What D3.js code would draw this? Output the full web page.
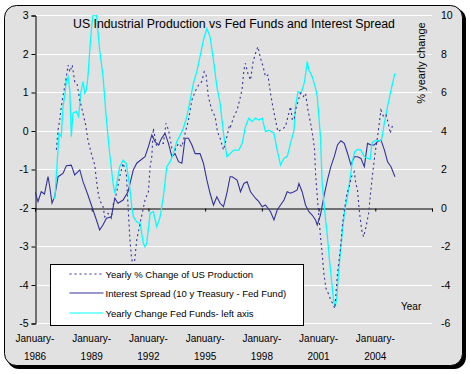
<!DOCTYPE html>
<html>
<head>
<meta charset="utf-8">
<script src="https://cdn.jsdelivr.net/npm/d3@7"></script>
<style>
  body { margin: 0; background: #fff; }
  text { font-family: "Liberation Sans", Arial, sans-serif; fill: #000; }
</style>
</head>
<body>
<div id="chart"></div>
<script>
// time axis in years, labels every 3 years
let tickYears = [1986, 1989, 1992, 1995, 1998, 2001, 2004];
let leftTicks = [3, 2, 1, 0, -1, -2, -3, -4, -5];
let rightTicks = [10, 8, 6, 4, 2, 0, -2, -4, -6];

// Interest Spread (10 y Treasury - Fed Fund), right axis
let spreadYears = [1986.00,1986.16,1986.33,1986.50,1986.69,1986.78,1986.90,1987.04,1987.22,1987.48,1987.66,1987.92,
  1988.10,1988.37,1988.54,1988.80,1989.07,1989.25,1989.42,1989.60,1989.78,1990.04,1990.22,1990.39,1990.66,1990.92,
  1991.20,1991.38,1991.82,1992.00,1992.18,1992.35,1992.53,1992.70,1992.88,1993.06,1993.24,1993.41,1993.59,1993.77,
  1993.94,1994.12,1994.30,1994.47,1994.73,1994.91,1995.09,1995.26,1995.44,1995.62,1995.79,1995.97,1996.15,1996.32,
  1996.43,1996.69,1996.87,1997.05,1997.22,1997.40,1997.66,1997.84,1998.02,1998.19,1998.46,1998.64,1998.81,1998.99,
  1999.17,1999.34,1999.52,1999.70,1999.87,1999.96,2000.13,2000.31,2000.49,2000.66,2000.84,2000.93,2001.10,2001.28,
  2001.47,2001.65,2001.83,2002.00,2002.18,2002.36,2002.53,2002.71,2002.89,2003.06,2003.24,2003.42,2003.59,2003.77,
  2003.95,2004.12,2004.30,2004.48,2004.65,2004.83,2005.04];
let spreadValues = [0.82,0.30,0.82,0.70,1.60,1.08,0.23,0.56,1.60,1.77,2.17,2.20,
  1.69,1.95,1.34,0.65,-0.13,-0.65,-1.17,-0.90,-0.56,-0.48,0.48,0.22,0.39,0.82,
  1.95,2.30,2.64,3.16,3.77,3.42,3.25,3.60,3.85,3.33,2.64,2.80,2.38,2.30,
  3.60,3.60,3.25,2.80,2.80,2.30,1.43,0.74,0.13,0.56,0.22,0.04,0.74,1.60,
  1.60,1.43,0.82,1.25,1.34,0.82,0.48,0.30,0.04,0.13,-0.22,-0.65,-0.13,0.13,
  0.39,0.82,0.74,0.82,0.91,1.25,0.82,0.13,-0.22,-0.39,-0.65,-0.91,-0.39,0.56,
  1.43,2.12,2.64,3.25,3.47,3.33,2.82,2.21,2.64,2.64,2.55,2.12,3.33,3.25,
  3.25,3.42,3.51,2.99,2.38,2.12,1.60];

// Yearly Change Fed Funds, left axis
let fedYears = [1986.95,1987.05,1987.16,1987.27,1987.39,1987.48,1987.57,1987.66,1987.75,1987.84,1987.92,1988.01,
  1988.19,1988.31,1988.42,1988.54,1988.63,1988.72,1988.80,1988.90,1988.98,1989.07,1989.25,1989.42,1989.60,1989.78,
  1989.95,1990.13,1990.22,1990.31,1990.48,1990.66,1990.83,1991.01,1991.12,1991.20,1991.38,1991.56,1991.73,1991.82,
  1991.91,1992.09,1992.26,1992.44,1992.62,1992.79,1992.97,1993.15,1993.32,1993.50,1993.68,1993.85,1994.03,1994.21,
  1994.38,1994.56,1994.73,1994.91,1995.09,1995.26,1995.44,1995.62,1995.79,1995.97,1996.15,1996.34,1996.52,1996.78,
  1996.96,1997.13,1997.31,1997.49,1997.66,1997.84,1998.02,1998.19,1998.37,1998.64,1998.81,1998.99,1999.17,1999.34,
  1999.52,1999.70,1999.78,1999.91,2000.08,2000.26,2000.40,2000.49,2000.66,2000.84,2000.93,2001.10,2001.19,2001.32,
  2001.39,2001.47,2001.56,2001.65,2001.79,2001.88,2001.97,2002.04,2002.15,2002.27,2002.39,2002.53,2002.68,2002.80,
  2002.92,2003.06,2003.24,2003.42,2003.59,2003.73,2003.82,2003.95,2004.21,2004.33,2004.48,2004.65,2004.83,2005.04];
let fedValues = [-1.76,-1.76,-0.94,-0.07,-0.16,0.62,0.88,1.31,1.40,1.05,-0.16,0.45,
  0.49,0.36,0.97,1.27,0.97,1.05,1.40,2.09,2.61,3.00,3.00,2.09,1.40,0.27,
  -0.59,-1.37,-1.63,-1.42,-0.94,-0.77,-0.86,-1.46,-1.98,-2.24,-2.37,-2.41,-2.93,-3.02,
  -2.93,-2.15,-2.11,-2.50,-2.24,-1.72,-0.94,-0.81,-0.59,-0.29,-0.12,0.06,0.36,0.79,
  1.23,1.53,1.92,2.35,2.65,2.44,1.83,1.14,0.71,-0.07,-0.68,-0.59,-0.51,-0.51,
  -0.33,0.10,0.32,0.23,0.32,0.27,0.32,-0.03,0.01,-0.07,-0.51,-0.90,-0.72,-0.68,
  -0.33,0.01,0.62,1.01,0.97,1.27,1.79,1.57,1.40,1.10,0.88,-0.16,-1.37,-2.06,
  -2.41,-2.76,-3.28,-3.71,-4.40,-4.58,-4.32,-3.80,-3.19,-2.58,-2.06,-1.72,-1.20,-0.77,
  -0.55,-0.49,-0.51,-0.68,-0.72,-0.75,-0.33,-0.27,-0.27,-0.25,0.19,0.62,1.05,1.49];

// Yearly % Change of US Production, right axis
let prodYears = [1987.13,1987.22,1987.31,1987.39,1987.48,1987.57,1987.66,1987.75,1987.84,1987.97,1988.10,1988.22,
  1988.37,1988.54,1988.68,1988.80,1988.93,1989.03,1989.16,1989.25,1989.33,1989.42,1989.60,1989.69,1989.86,1990.04,
  1990.13,1990.31,1990.48,1990.66,1990.83,1991.01,1991.10,1991.22,1991.38,1991.56,1991.82,1992.00,1992.09,1992.18,
  1992.26,1992.44,1992.62,1992.79,1992.93,1993.06,1993.24,1993.41,1993.59,1993.77,1993.94,1994.12,1994.30,1994.47,
  1994.65,1994.82,1994.95,1995.05,1995.17,1995.35,1995.53,1995.65,1995.79,1995.97,1996.15,1996.29,1996.34,1996.52,
  1996.69,1996.87,1996.96,1997.05,1997.13,1997.26,1997.40,1997.54,1997.66,1997.79,1997.93,1998.07,1998.19,1998.32,
  1998.46,1998.58,1998.72,1998.85,1998.99,1999.13,1999.25,1999.38,1999.52,1999.61,1999.70,1999.78,1999.91,2000.04,
  2000.19,2000.31,2000.44,2000.58,2000.70,2000.79,2000.84,2000.93,2001.02,2001.10,2001.19,2001.28,2001.39,2001.51,
  2001.65,2001.74,2001.86,2002.00,2002.15,2002.27,2002.39,2002.50,2002.62,2002.74,2002.89,2002.97,2003.06,2003.15,
  2003.28,2003.38,2003.51,2003.65,2003.73,2003.86,2003.99,2004.12,2004.21,2004.30,2004.44,2004.57,2004.69,2004.79,
  2004.92,2004.97];
let prodValues = [3.00,4.03,4.55,5.24,5.76,6.28,6.80,7.40,7.05,7.40,6.54,6.45,
  5.58,4.90,4.29,3.50,2.99,2.64,2.21,1.43,0.82,0.39,0.04,-0.48,-0.30,-0.56,
  0.13,0.74,1.60,2.30,1.77,-1.52,-2.56,-3.25,-1.69,-0.82,0.39,0.82,2.12,2.64,
  4.11,3.16,3.33,3.33,4.37,4.03,3.08,2.99,3.33,3.16,3.85,4.55,5.58,6.02,
  6.36,6.54,7.05,6.88,5.76,5.06,4.72,3.94,3.60,2.99,3.68,4.29,4.20,4.72,
  5.06,5.76,6.19,7.14,7.49,6.97,6.62,7.58,8.00,8.35,7.75,7.31,6.80,6.88,
  5.93,5.24,4.55,3.94,4.03,4.11,4.20,4.72,5.24,4.55,4.55,5.06,5.50,5.93,
  5.76,5.93,5.06,4.37,3.68,2.99,1.77,0.56,-0.48,-1.52,-2.38,-3.42,-4.20,-4.46,
  -4.81,-4.98,-5.24,-3.42,-2.21,-0.82,0.04,0.74,1.08,1.60,1.86,1.25,0.91,-0.13,
  -1.17,-1.52,-1.00,-0.30,0.56,1.77,2.82,3.68,4.37,5.06,4.72,4.81,4.37,3.85,
  4.29,4.37];

let svgWidth = 470;
let svgHeight = 374;
let plot = { left: 35, right: 432, top: 15, bottom: 323 };

let svg = d3.select("#chart")
  .append("svg")
  .attr("width", svgWidth)
  .attr("height", svgHeight);

// rounded frame with drop shadow
svg.append("rect")
  .attr("x", 7).attr("y", 8)
  .attr("width", 459).attr("height", 361)
  .attr("rx", 12).attr("fill", "#000");
svg.append("rect")
  .attr("x", 4.5).attr("y", 5.5)
  .attr("width", 458).attr("height", 360)
  .attr("rx", 12)
  .attr("fill", "#e1e1e1")
  .attr("stroke", "#000");

let x = d3.scaleLinear().domain([1986, 2007]).range([plot.left, plot.right]);
let yLeft = d3.scaleLinear().domain([-5, 3]).range([plot.bottom, plot.top]);
let yRight = d3.scaleLinear().domain([-6, 10]).range([plot.bottom, plot.top]);

// white gridlines
svg.append("g")
  .selectAll("line")
  .data(leftTicks.filter(d => d !== -2))
  .enter()
  .append("line")
  .attr("x1", plot.left).attr("x2", plot.right)
  .attr("y1", d => Math.round(yLeft(d)) + 0.5)
  .attr("y2", d => Math.round(yLeft(d)) + 0.5)
  .attr("stroke", "#fff");

// left axis
let leftAxis = svg.append("g")
  .attr("transform", `translate(${plot.left + 0.5}, 0.5)`)
  .call(d3.axisLeft(yLeft).tickValues(leftTicks).tickSize(4).tickPadding(3)
    .tickFormat(d => String(d)));
leftAxis.selectAll("text").style("font-size", "10.5px").style("font-family", "Liberation Sans, Arial");
leftAxis.select(".domain").attr("stroke", "#000");

// right axis, labels only
let rightAxis = svg.append("g")
  .attr("transform", `translate(${plot.right}, 0.5)`)
  .call(d3.axisRight(yRight).tickValues(rightTicks).tickSize(0).tickPadding(9)
    .tickFormat(d => String(d)));
rightAxis.select(".domain").remove();
rightAxis.selectAll("text").style("font-size", "10.5px").style("font-family", "Liberation Sans, Arial");

// x axis line at zero of the right axis
let xAxis = svg.append("g")
  .attr("transform", `translate(0, ${Math.round(yRight(0)) + 0.5})`)
  .call(d3.axisBottom(x).tickValues(tickYears.concat([2007])).tickSize(3).tickFormat(""));
xAxis.select(".domain").attr("stroke", "#000");

// category labels below the plot
let labels = svg.append("g")
  .selectAll("text")
  .data(tickYears)
  .enter()
  .append("text")
  .attr("text-anchor", "middle")
  .style("font-size", "10px");
labels.append("tspan")
  .attr("x", d => x(d))
  .attr("y", 342)
  .text("January-");
labels.append("tspan")
  .attr("x", d => x(d))
  .attr("y", 360)
  .text(d => d);

svg.append("clipPath").attr("id", "clip")
  .append("rect")
  .attr("x", plot.left).attr("y", plot.top)
  .attr("width", plot.right - plot.left).attr("height", plot.bottom - plot.top);

let lineRight = d3.line().x(d => x(d[0])).y(d => yRight(d[1]));
let lineLeft = d3.line().x(d => x(d[0])).y(d => yLeft(d[1]));

let series = svg.append("g").attr("clip-path", "url(#clip)");

series.append("path")
  .datum(d3.zip(spreadYears, spreadValues))
  .attr("d", lineRight)
  .attr("fill", "none")
  .attr("stroke", "#333399")
  .attr("stroke-width", 1.1);

series.append("path")
  .datum(d3.zip(fedYears, fedValues))
  .attr("d", lineLeft)
  .attr("fill", "none")
  .attr("stroke", "#00ffff")
  .attr("stroke-width", 1.3);

series.append("path")
  .datum(d3.zip(prodYears, prodValues))
  .attr("d", lineRight)
  .attr("fill", "none")
  .attr("stroke", "#333399")
  .attr("stroke-width", 1.1)
  .attr("stroke-dasharray", "2,3");

// title and axis titles
svg.append("text")
  .attr("x", 234).attr("y", 28)
  .attr("text-anchor", "middle")
  .style("font-size", "12.3px")
  .text("US Industrial Production vs Fed Funds and Interest Spread");

svg.append("text")
  .attr("transform", "translate(425, 63) rotate(-90)")
  .attr("text-anchor", "middle")
  .style("font-size", "11px")
  .text("% yearly change");

svg.append("text")
  .attr("x", 401).attr("y", 310)
  .style("font-size", "10px")
  .text("Year");

// legend
let legendItems = [
  { label: "Yearly % Change of US Production", color: "#333399", dash: "2,3" },
  { label: "Interest Spread (10 y Treasury - Fed Fund)", color: "#333399", dash: null },
  { label: "Yearly Change Fed Funds- left axis", color: "#00ffff", dash: null }
];
let legend = svg.append("g").attr("transform", "translate(50.5, 264.5)");
legend.append("rect")
  .attr("width", 253).attr("height", 61)
  .attr("fill", "#fff").attr("stroke", "#000");
let rows = legend.selectAll(".row")
  .data(legendItems)
  .enter()
  .append("g")
  .attr("class", "row")
  .attr("transform", (d, i) => `translate(0, ${[9.5, 28.5, 48.5][i]})`);
rows.append("line")
  .attr("x1", 19).attr("x2", 53)
  .attr("stroke", d => d.color)
  .attr("stroke-width", 1.2)
  .attr("stroke-dasharray", d => d.dash);
rows.append("text")
  .attr("x", 55).attr("y", 3.5)
  .style("font-size", "9.5px")
  .text(d => d.label);
</script>
</body>
</html>
